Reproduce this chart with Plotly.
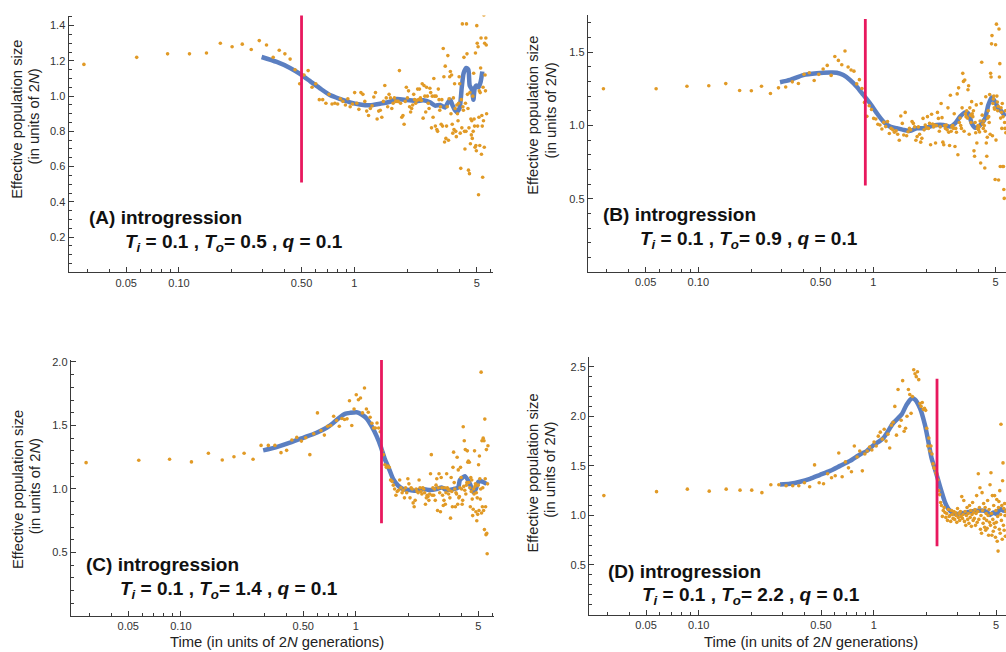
import plotly.graph_objects as go

# ---------------- data ----------------
DT = 0.0287  # spacing of the time grid (units of 2N generations)

panel_keys = ["A", "B", "C", "D"]
T_i_text = ["0.1", "0.1", "0.1", "0.1"]
T_o_text = ["0.5", "0.9", "1.4", "2.2"]
q_text = ["0.1", "0.1", "0.1", "0.1"]

# position and extent of the vertical (magenta) marker line
red_t = [0.5, 0.9, 1.4, 2.3]
red_lo = [0.51, 0.59, 0.73, 0.69]
red_hi = [1.46, 1.725, 2.05, 2.38]

ne_A = [1.18, 1.22, 1.24, 1.24, 1.245, 1.30, 1.28, 1.295, 1.265, 1.315,
        1.29, 1.22, 1.26, 1.24, 1.21, 1.15, 1.07, 1.12, 1.145, 1.05,
        1.07, 0.98, 0.98, 0.96, 1.01, 0.955, 0.96, 0.955, 0.985, 0.97,
        0.95, 0.985, 0.94, 0.955, 1.02, 0.96, 0.925, 1.02, 1.01, 0.97,
        0.915, 0.89, 0.93, 0.945, 0.995, 1.02, 0.87, 0.915, 0.92, 0.88,
        0.97, 1.06, 0.99, 0.94, 1.01, 0.99, 0.93, 0.96, 0.99, 0.97,
        0.97, 0.97, 1.145, 0.96, 0.88, 0.89, 0.84, 0.97, 1.05, 0.99,
        1.03, 0.94, 0.91, 0.93, 0.95, 1.01, 0.98, 0.96, 0.975, 1.04,
        0.98, 1.04, 0.99, 0.975, 1.07, 0.875, 1.06, 1.0, 0.91, 1.05,
        1.0, 0.96, 0.93, 1.045, 1.02, 0.82, 1.0, 0.88, 1.1, 1.0,
        0.83, 1.0, 0.81, 0.80, 1.04, 0.98, 0.92, 0.94, 0.84, 0.98,
        0.83, 1.27, 1.11, 0.74, 1.17, 0.76, 0.83, 0.94, 1.23, 0.75,
        0.985, 1.11, 1.14, 0.90, 1.12, 0.84, 0.79, 0.99, 0.81, 1.07,
        0.93, 0.80, 0.77, 0.95, 0.90, 0.86, 0.96, 1.11, 1.07, 0.79,
        0.59, 0.98, 0.82, 1.41, 0.94, 0.92, 1.22, 0.80, 0.70, 0.96,
        0.80, 1.41, 1.24, 1.01, 0.93, 0.58, 0.82, 0.56, 1.02, 0.73,
        0.87, 0.78, 0.86, 0.76, 1.0, 0.8, 1.13, 0.87, 0.83, 0.71,
        1.245, 0.72, 0.69, 1.40, 1.30, 0.83, 1.28, 0.44, 0.88, 1.03,
        0.72, 1.02, 1.16, 1.33, 0.67, 0.89, 0.83, 0.54, 1.05, 0.86,
        1.46, 0.71, 1.30, 1.12, 1.03, 1.33, 1.29, 0.90]

ne_B = [1.25, 1.25, 1.267, 1.27, 1.285, 1.238, 1.236, 1.267, 1.218, 1.256,
        1.262, 1.297, 1.286, 1.348, 1.359, 1.306, 1.348, 1.385, 1.409, 1.341,
        1.47, 1.443, 1.414, 1.507, 1.398, 1.378, 1.37, 1.283, 1.312, 1.252,
        1.157, 1.062, 1.134, 1.109, 1.048, 1.044, 1.008, 1.003, 0.976, 1.021,
        0.992, 1.026, 0.945, 0.98, 0.97, 0.954, 0.963, 0.94, 0.899, 1.064,
        1.014, 0.935, 1.089, 0.93, 0.957, 0.98, 0.97, 1.026, 1.014, 0.99,
        0.899, 0.924, 0.99, 0.94, 0.886, 0.912, 1.048, 0.97, 1.003, 0.985,
        1.06, 0.98, 1.014, 0.868, 1.076, 1.01, 0.99, 1.003, 0.88, 1.0,
        1.089, 1.048, 0.96, 0.99, 1.15, 1.053, 0.886, 0.868, 1.0, 0.98,
        1.003, 0.97, 1.12, 0.954, 0.863, 1.206, 0.96, 0.99, 1.0, 0.98,
        1.08, 0.857, 0.98, 0.954, 1.215, 0.80, 1.256, 1.02, 1.05, 1.0,
        0.98, 1.12, 1.355, 1.30, 0.96, 1.31, 1.08, 1.06, 1.1, 1.05,
        1.243, 1.27, 0.94, 1.12, 1.07, 1.02, 1.162, 1.08, 1.06, 1.1,
        0.827, 0.79, 1.02, 0.95, 1.14, 0.88, 0.98, 1.0, 0.97, 0.99,
        0.955, 1.03, 0.744, 1.15, 1.431, 1.07, 1.01, 0.98, 1.03, 1.0,
        0.71, 0.96, 1.195, 0.88, 0.79, 0.92, 1.05, 1.1, 1.06, 1.02,
        1.21, 0.94, 1.355, 1.33, 1.556, 1.612, 0.93, 1.15, 1.18, 1.2,
        1.12, 1.11, 0.632, 1.55, 0.90, 1.69, 1.2, 1.16, 1.1, 1.13,
        0.628, 1.657, 1.33, 1.421, 0.72, 1.05, 1.12, 1.09, 0.98, 1.15,
        0.72, 1.06, 0.72, 0.564, 0.503, 1.02, 0.98, 1.1, 0.95]

ne_C = [1.207, 1.226, 1.234, 1.213, 1.281, 1.228, 1.254, 1.281, 1.234, 1.343,
        1.343, 1.343, 1.286, 1.304, 1.385, 1.406, 1.377, 1.403, 1.27, 1.435,
        1.599, 1.46, 1.424, 1.494, 1.5, 1.573, 1.539, 1.494, 1.555, 1.547,
        1.552, 1.695, 1.5, 1.63, 1.742, 1.703, 1.716, 1.599, 1.795, 1.63,
        1.604, 1.565, 1.518, 1.48, 1.48, 1.52, 1.48, 1.45, 1.30, 1.27,
        1.19, 1.17, 1.18, 1.17, 1.07, 1.06, 1.03, 1.0, 0.95, 0.98,
        0.99, 1.07, 1.01, 0.97, 0.99, 0.93, 1.01, 0.97, 1.08, 1.04,
        0.93, 1.01, 1.0, 0.89, 0.86, 0.91, 1.0, 0.98, 0.97, 1.07,
        1.01, 0.98, 0.96, 1.01, 1.0, 0.97, 0.88, 0.93, 0.95, 0.94,
        0.91, 0.96, 1.12, 1.27, 0.95, 1.01, 0.95, 1.0, 0.91, 1.03,
        1.08, 0.83, 1.01, 1.12, 0.97, 0.82, 1.09, 1.01, 0.95, 0.87,
        0.91, 1.01, 0.88, 0.97, 1.12, 1.01, 1.0, 0.96, 0.99, 0.93,
        0.77, 1.09, 0.98, 0.86, 1.17, 1.29, 1.05, 1.0, 0.86, 0.97,
        0.96, 1.25, 0.88, 1.15, 0.93, 0.94, 1.01, 1.17, 1.09, 1.0,
        0.88, 0.91, 1.49, 1.02, 1.38, 0.99, 1.31, 0.96, 1.03, 1.05,
        1.30, 1.21, 1.22, 1.05, 1.21, 1.01, 0.86, 1.09, 0.98, 1.07,
        0.92, 0.79, 0.84, 1.0, 0.96, 1.30, 1.02, 1.04, 0.82, 0.97,
        0.75, 0.93, 0.80, 1.03, 1.19, 0.83, 1.26, 1.08, 0.92, 1.0,
        1.92, 0.81, 1.38, 0.86, 1.01, 1.40, 0.83, 1.38, 0.68, 1.55,
        1.08, 0.86, 0.64, 1.31, 0.65, 0.49, 1.04, 1.34]

ne_D = [1.20, 1.24, 1.265, 1.245, 1.265, 1.255, 1.255, 1.23, 1.31, 1.31,
        1.30, 1.30, 1.30, 1.33, 1.29, 1.51, 1.33, 1.32, 1.42, 1.38,
        1.40, 1.63, 1.39, 1.54, 1.48, 1.44, 1.70, 1.59, 1.65, 1.45,
        1.62, 1.65, 1.69, 1.66, 1.74, 1.70, 1.80, 1.84, 1.77, 1.87,
        1.75, 1.82, 1.68, 1.91, 1.94, 2.10, 1.81, 2.27, 1.90, 1.96,
        2.36, 1.85, 1.88, 2.00, 2.27, 2.22, 2.03, 2.20, 2.47, 2.43,
        2.40, 2.45, 2.37, 2.13, 2.10, 2.14, 2.07, 2.08, 2.06, 1.88,
        1.70, 1.78, 1.65, 1.70, 1.62, 1.52, 1.48, 1.47, 1.43, 1.41,
        1.36, 1.25, 1.21, 1.13, 1.10, 0.99, 1.05, 1.08, 1.03, 0.98,
        1.02, 0.95, 1.06, 0.99, 1.0, 0.94, 1.05, 1.01, 0.97, 1.04,
        0.96, 1.03, 1.00, 0.93, 1.07, 0.98, 1.02, 0.95, 1.04, 0.99,
        1.19, 0.97, 1.01, 1.15, 0.94, 1.04, 0.90, 1.00, 1.08, 0.96,
        1.02, 0.92, 1.10, 0.98, 1.05, 0.89, 1.01, 1.13, 0.95, 1.03,
        0.97, 1.06, 0.90, 1.02, 1.20, 0.93, 1.04, 1.42, 0.96, 1.08,
        1.28, 0.86, 1.0, 0.82, 1.23, 1.05, 0.92, 1.12, 0.97, 0.88,
        1.08, 0.85, 1.02, 0.95, 0.87, 1.15, 1.00, 0.80, 1.06, 0.93,
        1.31, 0.90, 1.43, 1.02, 0.80, 1.20, 0.96, 0.84, 1.10, 0.92,
        1.20, 0.88, 0.78, 1.05, 0.93, 1.16, 0.74, 0.99, 0.64, 1.08,
        1.14, 0.86, 1.25, 0.82, 1.01, 1.92, 0.95, 1.10, 0.76, 1.35,
        1.53, 0.90, 1.07, 0.85, 1.12, 1.0, 0.79, 1.04]

# smoothed trajectories (blue curves)
line_A_t = [0.296, 0.361, 0.430, 0.490, 0.559, 0.637, 0.726, 0.828, 0.945, 1.078,
            1.229, 1.402, 1.598, 1.745, 1.990, 2.27, 2.475, 2.70, 2.886, 3.083,
            3.29, 3.40, 3.52, 3.62, 3.75, 3.84, 3.98, 4.10, 4.20, 4.35,
            4.47, 4.55, 4.67, 4.78, 4.85, 4.95, 5.10, 5.25, 5.37]
line_A_v = [1.222, 1.194, 1.160, 1.126, 1.085, 1.044, 1.006, 0.984, 0.965, 0.953,
            0.948, 0.957, 0.968, 0.984, 0.978, 0.972, 0.976, 0.965, 0.946, 0.95,
            0.935, 0.96, 0.98, 0.95, 0.92, 0.91, 0.93, 1.05, 1.13, 1.16,
            1.15, 1.06, 1.04, 0.98, 1.04, 1.06, 1.05, 1.08, 1.14]

line_B_t = [0.293, 0.334, 0.398, 0.475, 0.566, 0.618, 0.674, 0.736, 0.804, 0.877,
            0.957, 1.046, 1.141, 1.246, 1.361, 1.484, 1.621, 1.770, 1.931, 2.109,
            2.303, 2.512, 2.744, 2.93, 3.13, 3.34, 3.49, 3.65, 3.81, 3.98,
            4.16, 4.35, 4.54, 4.75, 4.96, 5.18, 5.42, 5.66]
line_B_v = [1.294, 1.31, 1.343, 1.355, 1.36, 1.359, 1.343, 1.31, 1.264, 1.208,
            1.151, 1.084, 1.026, 0.992, 0.981, 0.97, 0.963, 0.981, 0.981, 0.992,
            1.003, 1.003, 0.992, 1.014, 1.06, 1.089, 1.082, 1.014, 0.985, 0.99,
            1.014, 1.048, 1.139, 1.19, 1.16, 1.117, 1.094, 1.06]

line_C_t = [0.295, 0.352, 0.420, 0.500, 0.596, 0.680, 0.742, 0.810, 0.865, 0.924,
            1.009, 1.078, 1.151, 1.229, 1.313, 1.384, 1.465, 1.550, 1.634, 1.745,
            1.864, 2.035, 2.223, 2.424, 2.648, 2.892, 3.088, 3.298, 3.597, 3.842,
            3.93, 4.20, 4.48, 4.68, 4.85, 5.0, 5.2, 5.58]
line_C_v = [1.304, 1.33, 1.364, 1.403, 1.443, 1.482, 1.52, 1.565, 1.591, 1.599,
            1.604, 1.586, 1.555, 1.494, 1.416, 1.337, 1.233, 1.155, 1.077, 1.025,
            0.999, 0.991, 0.986, 0.999, 0.991, 0.999, 1.012, 0.991, 0.999, 1.012,
            1.07, 1.10, 1.04, 0.975, 1.0, 1.055, 1.06, 1.04]

line_D_t = [0.2914, 0.3324, 0.3792, 0.4325, 0.4933, 0.5627, 0.6418, 0.732, 0.835, 0.912,
            1.0, 1.135, 1.29, 1.445, 1.544, 1.65, 1.72, 1.84, 1.96, 2.05,
            2.14, 2.24, 2.34, 2.45, 2.555, 2.67, 2.85, 3.0, 3.251, 3.551,
            3.879, 4.23, 4.46, 4.62, 4.83, 5.05, 5.27, 5.50, 5.70]
line_D_v = [1.312, 1.32, 1.34, 1.37, 1.41, 1.45, 1.50, 1.55, 1.615, 1.65,
            1.71, 1.78, 1.93, 2.02, 2.12, 2.18, 2.17, 2.08, 1.917, 1.75,
            1.58, 1.466, 1.35, 1.232, 1.132, 1.066, 1.022, 1.015, 1.025, 1.038,
            1.048, 1.048, 1.03, 1.005, 1.03, 1.015, 1.065, 1.048, 1.048]

x_major = [0.05, 0.1, 0.5, 1, 5]
x_major_text = ["0.05", "0.10", "0.50", "1", "5"]
x_minor = [0.03, 0.04, 0.06, 0.07, 0.08, 0.09, 0.2, 0.3, 0.4, 0.6, 0.7, 0.8, 0.9, 2, 3, 4, 6]

y_major = [[0.2, 0.4, 0.6, 0.8, 1.0, 1.2, 1.4],
           [0.5, 1.0, 1.5],
           [0.5, 1.0, 1.5, 2.0],
           [0.5, 1.0, 1.5, 2.0, 2.5]]
y_major_text = [["0.2", "0.4", "0.6", "0.8", "1.0", "1.2", "1.4"],
                ["0.5", "1.0", "1.5"],
                ["0.5", "1.0", "1.5", "2.0"],
                ["0.5", "1.0", "1.5", "2.0", "2.5"]]
y_minor_step = [0.05, 0.1, 0.1, 0.1]

# ---------------- layout geometry ----------------
W, H = 1006, 652
FONT = "Liberation Sans, Arial, Helvetica, sans-serif"
AX = "#3a3a3a"
C_PTS = "#E19A26"
C_LINE = "#5B7FC1"
C_RED = "#E8185E"

x_dom = [[0.0681, 0.4899], [0.5842, 1.0], [0.0703, 0.4912], [0.5855, 1.0]]
y_dom = [[0.5859, 0.9821], [0.5861, 0.9836], [0.0557, 0.4505], [0.0578, 0.4555]]
x_rng = [[-1.630, 0.79], [-1.632, 0.758], [-1.630, 0.79], [-1.627, 0.756]]
y_rng = [[0, 1.457], [0, 1.755], [0, 2.015], [0, 2.6]]

# annotation pixel anchors
title1_px = [(87, 215), (601, 212), (84, 564), (606, 571)]     # (left, middle)
title2_px = [(123, 240), (638, 237), (118, 590), (640, 596)]   # (left, middle)
ylab1_px = [(17.5, 197), (533.5, 193), (17.5, 569.5), (533.5, 553)]   # (center-x, bottom)
ylab2_px = [(34, 162.5), (551.5, 157), (35, 534.5), (550.5, 518.5)]   # (center-x, bottom)
xlab_px = [None, None, (277, 642), (811, 642)]

ne_all = [ne_A, ne_B, ne_C, ne_D]
line_t_all = [line_A_t, line_B_t, line_C_t, line_D_t]
line_v_all = [line_A_v, line_B_v, line_C_v, line_D_v]

fig = go.Figure()
annotations = []


def px(xp, yp):
    return xp / W, 1 - yp / H


for i, key in enumerate(panel_keys):
    sfx = "" if i == 0 else str(i + 1)
    xa, ya = "x" + sfx, "y" + sfx
    ne = ne_all[i]
    times = [DT * (k + 1) for k in range(len(ne))]

    fig.add_trace(go.Scatter(
        x=line_t_all[i], y=line_v_all[i], mode="lines",
        line=dict(color=C_LINE, width=4.5, shape="spline", smoothing=0.6),
        xaxis=xa, yaxis=ya, showlegend=False, hoverinfo="skip"))
    fig.add_trace(go.Scatter(
        x=times, y=ne, mode="markers",
        marker=dict(color=C_PTS, size=3.6, line=dict(width=0)),
        xaxis=xa, yaxis=ya, showlegend=False))
    fig.add_trace(go.Scatter(
        x=[red_t[i], red_t[i]], y=[red_lo[i], red_hi[i]], mode="lines",
        line=dict(color=C_RED, width=2.8),
        xaxis=xa, yaxis=ya, showlegend=False, hoverinfo="skip"))

    step = y_minor_step[i]
    n_min = int(round(y_rng[i][1] / step))
    y_minor = [round(step * m, 3) for m in range(1, n_min + 1)
               if all(abs(step * m - v) > 1e-6 for v in y_major[i])]

    xaxis = dict(type="log", domain=x_dom[i], range=x_rng[i], anchor=ya,
                 showline=True, linecolor=AX, linewidth=1, mirror=False,
                 ticks="inside", ticklen=5, tickwidth=1, tickcolor=AX,
                 tickmode="array", tickvals=x_major, ticktext=x_major_text,
                 tickfont=dict(family=FONT, size=11, color="#333"),
                 showgrid=False, zeroline=False,
                 minor=dict(tickmode="array", tickvals=x_minor, ticks="inside",
                            ticklen=3, tickwidth=1, tickcolor=AX, showgrid=False))
    yaxis = dict(domain=y_dom[i], range=y_rng[i], anchor=xa,
                 showline=True, linecolor=AX, linewidth=1, mirror=False,
                 ticks="inside", ticklen=5, tickwidth=1, tickcolor=AX,
                 tickmode="array", tickvals=y_major[i], ticktext=y_major_text[i],
                 tickfont=dict(family=FONT, size=11, color="#333"),
                 showgrid=False, zeroline=False,
                 minor=dict(tickmode="array", tickvals=y_minor, ticks="inside",
                            ticklen=3, tickwidth=1, tickcolor=AX, showgrid=False))
    fig.update_layout(**{"xaxis" + sfx: xaxis, "yaxis" + sfx: yaxis})

    # panel titles
    x1, y1 = px(*title1_px[i])
    annotations.append(dict(x=x1, y=y1, xref="paper", yref="paper",
                            xanchor="left", yanchor="middle", showarrow=False,
                            text=f"<b>({key}) introgression</b>",
                            font=dict(family=FONT, size=19, color="#111")))
    x2, y2 = px(*title2_px[i])
    annotations.append(dict(
        x=x2, y=y2, xref="paper", yref="paper", xanchor="left", yanchor="middle",
        showarrow=False,
        text=(f"<b><i>T</i><sub><i>i</i></sub> = {T_i_text[i]} , "
              f"<i>T</i><sub><i>o</i></sub>= {T_o_text[i]} , "
              f"<i>q</i> = {q_text[i]}</b>"),
        font=dict(family=FONT, size=19, color="#111")))
    # y-axis label (two lines), anchored at their lower end
    lx, ly = px(*ylab1_px[i])
    annotations.append(dict(x=lx, y=ly, xref="paper", yref="paper", textangle=-90,
                            xanchor="center", yanchor="bottom", showarrow=False,
                            borderpad=0,
                            text="Effective population size",
                            font=dict(family=FONT, size=14.8, color="#222")))
    lx, ly = px(*ylab2_px[i])
    annotations.append(dict(x=lx, y=ly, xref="paper", yref="paper", textangle=-90,
                            xanchor="center", yanchor="bottom", showarrow=False,
                            borderpad=0,
                            text="(in units of 2<i>N</i>)",
                            font=dict(family=FONT, size=14.8, color="#222")))
    if xlab_px[i] is not None:
        lx, ly = px(*xlab_px[i])
        annotations.append(dict(x=lx, y=ly, xref="paper", yref="paper",
                                xanchor="center", yanchor="middle", showarrow=False,
                                text="Time (in units of 2<i>N</i> generations)",
                                font=dict(family=FONT, size=14.8, color="#222")))

fig.update_layout(
    width=W, height=H, margin=dict(l=0, r=0, t=0, b=0),
    paper_bgcolor="white", plot_bgcolor="white",
    annotations=annotations, showlegend=False,
    font=dict(family=FONT),
)

fig.write_html("out.html", include_plotlyjs=True, full_html=True,
               config={"displayModeBar": False})
